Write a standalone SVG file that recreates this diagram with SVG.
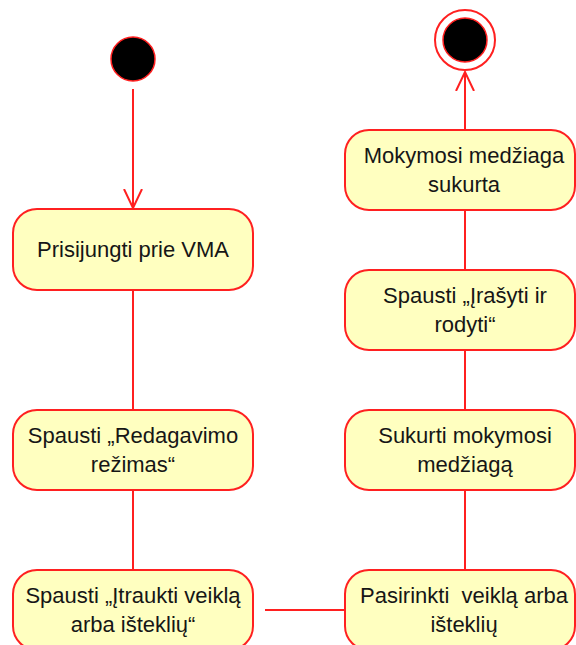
<svg xmlns="http://www.w3.org/2000/svg" width="576" height="645" viewBox="0 0 576 645">
  <style>
    .act { fill: #FFFFC0; stroke: #FF2020; stroke-width: 2; }
    .lbl { font-family: "Liberation Sans", Arial, sans-serif; font-size: 22px; fill: #161616; text-anchor: middle; }
    .flow { fill: none; stroke: #FF2020; stroke-width: 2; }
  </style>
  <defs>
    <marker id="open" viewBox="0 0 20 20" refX="19" refY="10" markerWidth="20" markerHeight="20" markerUnits="userSpaceOnUse" orient="auto">
      <path d="M0,1 L19,10 L0,19" fill="none" stroke="#FF2020" stroke-width="2"/>
    </marker>
  </defs>
  <rect width="576" height="645" fill="#FFFFFF"/>

  <!-- transitions -->
  <g id="connectors">
    <line class="flow" x1="133" y1="89" x2="133" y2="208" marker-end="url(#open)"/>
    <line class="flow" x1="133" y1="290" x2="133" y2="410"/>
    <line class="flow" x1="133" y1="490" x2="133" y2="570"/>
    <line class="flow" x1="265" y1="610" x2="345" y2="610"/>
    <line class="flow" x1="465" y1="570" x2="465" y2="490"/>
    <line class="flow" x1="465" y1="410" x2="465" y2="350"/>
    <line class="flow" x1="465" y1="270" x2="465" y2="210"/>
    <line class="flow" x1="465" y1="130" x2="465" y2="72" marker-end="url(#open)"/>
  </g>

  <!-- initial node -->
  <g id="start">
    <circle cx="133" cy="59" r="22" fill="#000000" stroke="#FF2020" stroke-width="1.5"/>
  </g>

  <!-- final node -->
  <g id="end">
    <circle cx="465" cy="40" r="30" fill="#FFFFFF" stroke="#FF2020" stroke-width="2"/>
    <circle cx="465" cy="40" r="22" fill="#000000" stroke="#FF2020" stroke-width="1.5"/>
  </g>

  <g id="prisijungti">
    <rect class="act" x="13" y="209" width="240" height="81" rx="24"/>
    <text class="lbl" x="133" y="257">Prisijungti prie VMA</text>
  </g>

  <g id="redagavimo">
    <rect class="act" x="13" y="410" width="240" height="80" rx="24"/>
    <text class="lbl" x="133" y="443">Spausti „Redagavimo</text>
    <text class="lbl" x="133" y="472">režimas“</text>
  </g>

  <g id="itraukti">
    <rect class="act" x="13" y="570" width="240" height="80" rx="24"/>
    <text class="lbl" x="133" y="603">Spausti „Įtraukti veiklą</text>
    <text class="lbl" x="133" y="632">arba išteklių“</text>
  </g>

  <g id="pasirinkti">
    <rect class="act" x="345" y="570" width="230" height="80" rx="24"/>
    <text class="lbl" x="464" y="603" xml:space="preserve">Pasirinkti  veiklą arba</text>
    <text class="lbl" x="464" y="632">išteklių</text>
  </g>

  <g id="sukurti">
    <rect class="act" x="345" y="410" width="230" height="80" rx="24"/>
    <text class="lbl" x="465" y="443">Sukurti mokymosi</text>
    <text class="lbl" x="465" y="472">medžiagą</text>
  </g>

  <g id="irasyti">
    <rect class="act" x="345" y="270" width="230" height="80" rx="24"/>
    <text class="lbl" x="465" y="303">Spausti „Įrašyti ir</text>
    <text class="lbl" x="465" y="332">rodyti“</text>
  </g>

  <g id="sukurta">
    <rect class="act" x="345" y="130" width="230" height="80" rx="24"/>
    <text class="lbl" x="464" y="163">Mokymosi medžiaga</text>
    <text class="lbl" x="464" y="192">sukurta</text>
  </g>
</svg>
